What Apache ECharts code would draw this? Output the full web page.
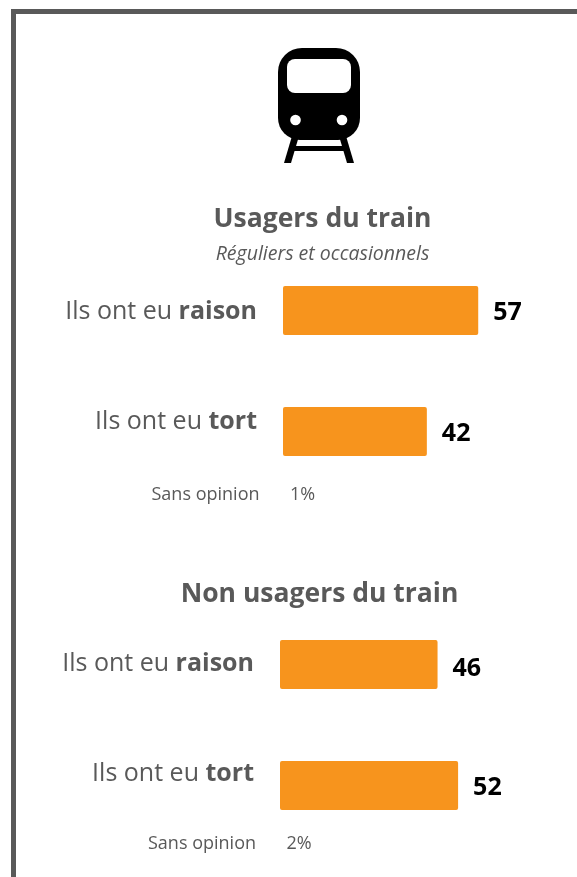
<!DOCTYPE html>
<html><head><meta charset="utf-8">
<style>html,body{margin:0;padding:0;background:#fff;overflow:hidden}#c{width:577px;height:877px}</style>
<script src="https://cdn.jsdelivr.net/npm/echarts@6/dist/echarts.min.js"></script></head>
<body><div id="c"></div>
<script>
const categories = ['raison', 'tort'];
const usagersValues = [57, 42];
const nonUsagersValues = [46, 52];
const titles = ['Usagers du train', 'Non usagers du train'];
const subtitle = 'Réguliers et occasionnels';
const sansOpinionLabel = 'Sans opinion';
const sansOpinion = ['1%', '2%'];

const FONT = '"Open Sans", sans-serif';
const ORANGE = '#F7941D', GREY = '#595959';

function catAxis(idx, pad1, pad2) {
  return {
    type: 'category', gridIndex: idx, inverse: true, data: categories,
    axisLine: {show: false}, axisTick: {show: false},
    axisLabel: {
      margin: 26, fontFamily: FONT,
      formatter: v => v === 'tort' ? `{a2|Ils ont eu }{b2|${v}}` : `{a|Ils ont eu }{b|${v}}`,
      rich: {
        a: {fontSize: 25, color: GREY, fontFamily: FONT, padding: pad1},
        b: {fontSize: 25, color: GREY, fontFamily: FONT, fontWeight: 'bold', padding: pad1},
        a2: {fontSize: 25, color: GREY, fontFamily: FONT, padding: pad2},
        b2: {fontSize: 25, color: GREY, fontFamily: FONT, fontWeight: 'bold', padding: pad2}
      }
    }
  };
}
function valAxis(idx) {
  return {type: 'value', gridIndex: idx, min: 0, max: 80, show: false, splitLine: {show: false}};
}
function barSeries(idx, values, offsets) {
  return {
    type: 'bar', xAxisIndex: idx, yAxisIndex: idx, barWidth: 49,
    data: values.map((v, i) => ({value: v, label: {offset: offsets[i]}})),
    itemStyle: {color: ORANGE, borderRadius: 2},
    label: {show: true, position: 'right', distance: 15, color: '#000', fontFamily: FONT, fontWeight: 'bold', fontSize: 25},
    silent: true
  };
}
function text(x, y, t, size, weight, style, align) {
  return {type: 'text', x, y, silent: true, style: {
    text: t, fill: GREY, font: `${style || 'normal'} ${weight || 'normal'} ${size}px ${FONT}`,
    align: align || 'center', verticalAlign: 'middle'}};
}
const icon = [
  {type: 'rect', shape: {x: 278, y: 48, width: 82, height: 92, r: [24, 24, 22, 22]}, style: {fill: '#000'}},
  {type: 'polygon', shape: {points: [[292, 136], [299, 136], [291, 163], [284, 163]]}, style: {fill: '#000'}},
  {type: 'polygon', shape: {points: [[339, 136], [346, 136], [354, 163], [347, 163]]}, style: {fill: '#000'}},
  {type: 'rect', shape: {x: 294, y: 146, width: 50, height: 5}, style: {fill: '#000'}},
  {type: 'rect', shape: {x: 287, y: 59, width: 64, height: 34, r: 8}, style: {fill: '#fff'}},
  {type: 'circle', shape: {cx: 295.5, cy: 120, r: 5.3}, style: {fill: '#fff'}},
  {type: 'circle', shape: {cx: 342, cy: 120, r: 5.3}, style: {fill: '#fff'}}
];
const chart = echarts.init(document.getElementById('c'), null, {renderer: 'canvas'});
chart.setOption({
  animation: false, backgroundColor: '#fff',
  grid: [
    {left: 283, top: 250, width: 274, height: 242, outerBoundsMode: 'none'},
    {left: 280, top: 604, width: 274, height: 242, outerBoundsMode: 'none'}
  ],
  xAxis: [valAxis(0), valAxis(1)],
  yAxis: [catAxis(0, [2, 0, 0, 0], [0, 0, 20, 0]), catAxis(1, [0, 0, 2, 0], [0, 0, 24, 0])],
  series: [barSeries(0, usagersValues, [[0, 2], [0, 2]]), barSeries(1, nonUsagersValues, [[0, 4], [0, 2]])],
  graphic: [
    {type: 'polyline', shape: {points: [[13.5, 877], [13.5, 11.5], [577, 11.5]]}, style: {stroke: GREY, lineWidth: 5, fill: null}, silent: true},
    ...icon.map(o => ({...o, silent: true})),
    text(322.5, 219, titles[0], 26.5, 'bold'),
    text(322.5, 254, subtitle, 19.5, 'normal', 'italic'),
    text(319.5, 594, titles[1], 26.5, 'bold'),
    text(205.5, 495, sansOpinionLabel, 18),
    text(302.5, 495, sansOpinion[0], 18),
    text(202, 844, sansOpinionLabel, 18),
    text(299, 844, sansOpinion[1], 18)
  ]
});
</script></body></html>
